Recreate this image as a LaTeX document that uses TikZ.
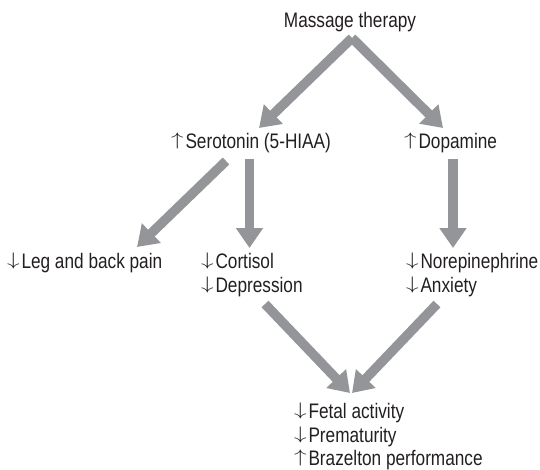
\documentclass[tikz,border=0pt]{standalone}
\usepackage{fontspec}
\usepackage{graphicx}
\setmainfont{Liberation Sans}[FakeStretch=0.82]
\usetikzlibrary{arrows.meta}
\definecolor{arrowgray}{RGB}{147,149,152}
\definecolor{txt}{RGB}{35,31,32}
\newcommand{\myup}{\makebox[14.5pt][l]{\raisebox{2.4pt}{\scalebox{1.45}[1.05]{\fontsize{17}{17}\selectfont$\uparrow$}}}}
\newcommand{\mydown}{\makebox[14.5pt][l]{\raisebox{2.4pt}{\scalebox{1.45}[1.05]{\fontsize{17}{17}\selectfont$\downarrow$}}}}
\begin{document}
\begin{tikzpicture}[x=1pt,y=-1pt,
  lbl/.style={inner sep=0pt,outer sep=0pt,anchor=base west,text=txt,font=\fontsize{21}{24}\selectfont},
  bigarrow/.style={draw=arrowgray,line width=9.5pt,-{Triangle[length=20pt,width=26pt]},fill=arrowgray}]
\useasboundingbox (0,0) rectangle (540,469);
\node[lbl,anchor=base] (mt) at (350,27) {Massage therapy};
\node[lbl] (ser) at (171,148) {\myup Serotonin (5-HIAA)};
\node[lbl] (dop) at (404,148) {\myup Dopamine};
\node[lbl] (leg) at (7,268) {\mydown Leg and back pain};
\node[lbl] (cort) at (201,268) {\mydown Cortisol};
\node[lbl] (dep) at (201,292) {\mydown Depression};
\node[lbl] (nor) at (406,268) {\mydown Norepinephrine};
\node[lbl] (anx) at (406,292) {\mydown Anxiety};
\node[lbl] (fetal) at (294,418) {\mydown Fetal activity};
\node[lbl] (prem) at (294,442) {\mydown Prematurity};
\node[lbl] (braz) at (294,465) {\myup Brazelton performance};
\draw[bigarrow] ([shift={(2,11)}]mt.base) -- ([shift={(88,-20)}]ser.base west);
\draw[bigarrow] ([shift={(2,11)}]mt.base) -- ([shift={(39,-20)}]dop.base west);
\draw[bigarrow] ([shift={(55,13)}]ser.base west) -- ([shift={(130,-21)}]leg.base west);
\draw[bigarrow] ([shift={(78.5,11)}]ser.base west) -- ([shift={(48.5,-20)}]cort.base west);
\draw[bigarrow] ([shift={(49,11)}]dop.base west) -- ([shift={(47,-20)}]nor.base west);
\draw[bigarrow] ([shift={(64,12)}]dep.base west) -- ([shift={(56,-25)}]fetal.base west);
\draw[bigarrow] ([shift={(31,12)}]anx.base west) -- ([shift={(58,-25)}]fetal.base west);
\end{tikzpicture}
\end{document}
